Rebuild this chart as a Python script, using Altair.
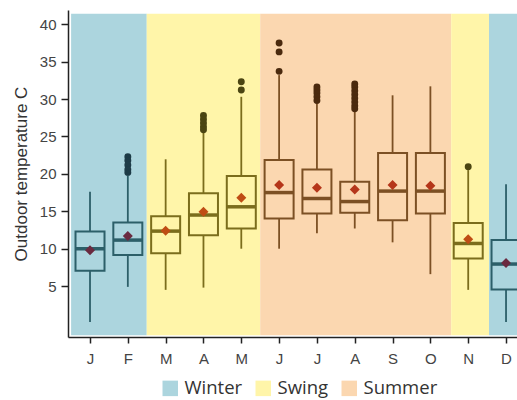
import json
import altair as alt
import pandas as pd

# ---------------- data ----------------
months = ["J", "F", "M", "A", "M", "J", "J", "A", "S", "O", "N", "D"]
month_num = list(range(1, 13))
season = ["Winter", "Winter", "Swing", "Swing", "Swing", "Summer", "Summer",
          "Summer", "Summer", "Summer", "Swing", "Winter"]
whisker_lo = [0.2, 4.9, 4.5, 4.8, 10.0, 10.0, 12.05, 12.7, 10.85, 6.6, 4.5, 0.2]
q1 = [7.05, 9.15, 9.4, 11.8, 12.7, 14.05, 14.7, 14.8, 13.8, 14.7, 8.7, 4.55]
median = [10.0, 11.15, 12.35, 14.5, 15.6, 17.5, 16.7, 16.3, 17.7, 17.7, 10.7, 7.95]
q3 = [12.3, 13.5, 14.35, 17.4, 19.7, 21.85, 20.6, 18.95, 22.8, 22.8, 13.45, 11.15]
whisker_hi = [17.6, 19.8, 21.95, 25.6, 30.3, 33.2, 29.4, 28.3, 30.5, 31.7, 20.5, 18.6]
mean = [9.8, 11.7, 12.4, 14.95, 16.8, 18.5, 18.15, 17.9, 18.5, 18.4, 11.25, 8.1]

outlier_month = [2, 2, 2, 2, 2,
                 4, 4, 4, 4, 4,
                 5, 5,
                 6, 6, 6,
                 7, 7, 7, 7, 7,
                 8, 8, 8, 8, 8, 8, 8, 8,
                 11]
outlier_value = [22.3, 21.8, 21.2, 20.6, 20.2,
                 27.8, 27.3, 26.8, 26.3, 25.9,
                 32.3, 31.2,
                 37.5, 36.3, 33.7,
                 31.6, 31.2, 30.8, 30.3, 29.8,
                 32.0, 31.6, 31.1, 30.6, 30.1, 29.6, 29.1, 28.7,
                 20.96]

band_season = ["Winter", "Swing", "Summer", "Swing", "Winter"]
band_start = [0.5, 2.5, 5.5, 10.55, 11.55]
band_end = [2.5, 5.5, 10.55, 11.55, 12.5]

season_order = ["Winter", "Swing", "Summer"]
y_ticks = [5, 10, 15, 20, 25, 30, 35, 40]

# ---------------- styles ----------------
band_colors = ["#acd5de", "#fff5a9", "#fbd7b0"]
box_colors = ["#2c5f69", "#7b6d1c", "#7c5024"]
mean_colors = ["#6a2a40", "#bf4d14", "#b5361a"]
outlier_colors = ["#1d3b47", "#4b4512", "#4b2a0e"]

season_of = dict(zip(month_num, season))

stats = pd.DataFrame({
    "m": month_num, "season": season, "wlo": whisker_lo, "q1": q1,
    "median": median, "q3": q3, "whi": whisker_hi, "mean": mean,
})
outl = pd.DataFrame({"m": outlier_month, "v": outlier_value,
                     "season": [season_of[m] for m in outlier_month]})
bands = pd.DataFrame({"season": band_season, "start": band_start, "end": band_end})

xscale = alt.Scale(domain=[0.418, 12.29], nice=False, zero=False, padding=0)
yscale = alt.Scale(domain=[-1.8, 41.9], nice=False, zero=False, padding=0)

label_expr = json.dumps(months) + "[datum.value - 1]"

xaxis = alt.Axis(values=month_num, labelExpr=label_expr, title=None, grid=False,
                 domainColor="#222", domainWidth=1.5, tickColor="#222",
                 tickWidth=1.5, tickSize=6, labelFont="Liberation Sans",
                 labelFontSize=15, labelColor="#444", labelPadding=8)
yaxis = alt.Axis(values=y_ticks, title="Outdoor temperature C", grid=False,
                 domainColor="#222", domainWidth=1.5, tickColor="#222",
                 tickWidth=1.5, tickSize=7, labelFont="Liberation Sans",
                 labelFontSize=15, labelColor="#444", labelPadding=5,
                 titleFont="Liberation Sans", titleFontSize=17,
                 titleFontWeight="normal", titleColor="#333", titlePadding=9)


def scol(rng, field="season:N"):
    return alt.Color(field, scale=alt.Scale(domain=season_order, range=rng), legend=None)


band_layer = alt.Chart(bands).mark_rect(clip=True).encode(
    x=alt.X("start:Q", scale=xscale, axis=xaxis),
    x2="end:Q",
    y=alt.Y(datum=41.4, type="quantitative", scale=yscale, axis=yaxis),
    y2=alt.datum(-1.55),
    color=alt.Color("season:N",
                    scale=alt.Scale(domain=season_order, range=band_colors),
                    legend=alt.Legend(orient="none", legendX=93, legendY=369,
                                      direction="horizontal", title=None,
                                      symbolType="square", symbolSize=240,
                                      symbolStrokeWidth=0, symbolOpacity=1,
                                      labelFont="Open Sans", labelFontSize=18.5,
                                      labelColor="#333", labelOffset=5,
                                      columnPadding=11)),
)

base = alt.Chart(stats)

wl = base.mark_rule(strokeWidth=1.8, clip=True).encode(
    x=alt.X("m:Q", scale=xscale), y=alt.Y("wlo:Q", scale=yscale), y2="q1:Q",
    color=scol(box_colors))
wh = base.mark_rule(strokeWidth=1.8, clip=True).encode(
    x=alt.X("m:Q", scale=xscale), y=alt.Y("q3:Q", scale=yscale), y2="whi:Q",
    color=scol(box_colors))
box = base.mark_bar(size=29, fillOpacity=0, strokeWidth=2, clip=True).encode(
    x=alt.X("m:Q", scale=xscale), y=alt.Y("q1:Q", scale=yscale), y2="q3:Q",
    stroke=alt.Stroke("season:N", scale=alt.Scale(domain=season_order, range=box_colors),
                      legend=None))
med = base.mark_tick(orient="horizontal", size=29, thickness=3.5, opacity=1, clip=True).encode(
    x=alt.X("m:Q", scale=xscale), y=alt.Y("median:Q", scale=yscale),
    color=scol(box_colors))
mn = base.mark_point(shape="diamond", filled=True, size=100, opacity=1, clip=True).encode(
    x=alt.X("m:Q", scale=xscale), y=alt.Y("mean:Q", scale=yscale),
    color=scol(mean_colors))
out = alt.Chart(outl).mark_circle(size=48, opacity=1, clip=True).encode(
    x=alt.X("m:Q", scale=xscale), y=alt.Y("v:Q", scale=yscale),
    color=scol(outlier_colors))

chart = alt.layer(band_layer, wl, wh, box, med, mn, out).resolve_scale(
    color="independent", stroke="independent"
).properties(
    width=449, height=327,
    autosize=alt.AutoSizeParams(type="none"),
    padding={"left": 68, "top": 10, "right": 0, "bottom": 63},
    background="white",
).configure_view(stroke=None)

chart.save("out.html", embed_options={"renderer": "svg", "actions": False})
